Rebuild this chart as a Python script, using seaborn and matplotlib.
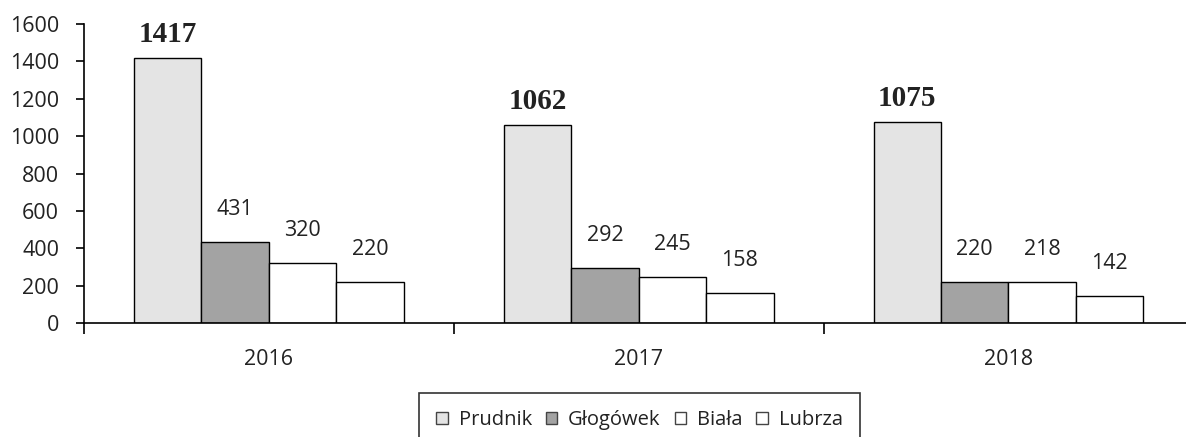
import matplotlib
matplotlib.use("Agg")
import matplotlib.pyplot as plt
import seaborn as sns
import pandas as pd
from matplotlib.ticker import FixedLocator

years = ["2016", "2017", "2018"]
series = ["Prudnik", "Głogówek", "Biała", "Lubrza"]
prudnik = [1417, 1062, 1075]
glogowek = [431, 292, 220]
biala = [320, 245, 218]
lubrza = [220, 158, 142]
colors = {"Prudnik": "#e4e4e4", "Głogówek": "#a3a3a3", "Biała": "#ffffff", "Lubrza": "#ffffff"}

rows = []
for name, vals in zip(series, [prudnik, glogowek, biala, lubrza]):
    for y, v in zip(years, vals):
        rows.append({"year": y, "gmina": name, "value": v})
df = pd.DataFrame(rows)

sns.set_style("white")
plt.rcParams["font.family"] = ["Open Sans", "DejaVu Sans"]

fig = plt.figure(figsize=(11.86, 4.37), dpi=100)
ax = fig.add_axes([84 / 1186, 114 / 437, 1 - 84 / 1186, 299 / 437])

sns.barplot(data=df, x="year", y="value", hue="gmina", hue_order=series,
            order=years, palette=colors, edgecolor="black", linewidth=1.0,
            width=0.73, gap=0, ax=ax, legend=True)

ax.set_ylim(0, 1600)
ax.set_xlim(-0.5, 2.48)
ax.set_yticks(range(0, 1601, 200))
ax.set_xlabel("")
ax.set_ylabel("")
for s in ["top", "right"]:
    ax.spines[s].set_visible(False)
for s in ["left", "bottom"]:
    ax.spines[s].set_linewidth(1.2)
    ax.spines[s].set_color("black")
ax.tick_params(axis="y", which="major", left=True, length=6, width=1.2,
               labelsize=15.5, pad=12, colors="#222222")
ax.tick_params(axis="y", which="major", color="black")
ax.tick_params(axis="x", which="major", bottom=False, labelsize=15.5, pad=15, colors="#222222")
ax.xaxis.set_minor_locator(FixedLocator([-0.5, 0.5, 1.5]))
ax.tick_params(axis="x", which="minor", bottom=True, length=8, width=1.2, color="black")

for i, cont in enumerate(ax.containers):
    if i == 0:
        ax.bar_label(cont, fmt="%d", padding=7, fontsize=21, fontweight="bold",
                     family=["Liberation Serif", "DejaVu Serif"], color="#222222")
    else:
        ax.bar_label(cont, fmt="%d", padding=16, fontsize=15.5, color="#222222")

leg = ax.legend(loc="upper center", bbox_to_anchor=(639.5 / 1186, 1 - 393 / 437),
                bbox_transform=fig.transFigure, ncol=4, frameon=True,
                fontsize=14.5, handlelength=0.55, handleheight=0.55, handletextpad=0.55,
                columnspacing=0.7, borderpad=0.85, borderaxespad=0, fancybox=False)
leg.get_frame().set_edgecolor("black")
leg.get_frame().set_linewidth(1.2)
for h in leg.legend_handles:
    h.set_edgecolor("#444444")
for t in leg.get_texts():
    t.set_color("#222222")

fig.savefig("out.png", dpi=100)
